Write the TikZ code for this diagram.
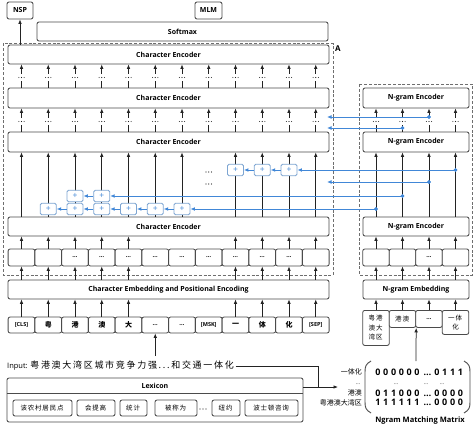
\documentclass[tikz,border=0pt]{standalone}
\usepackage{fontspec}
\setmainfont{Open Sans}
\newfontfamily\cjk{Noto Sans CJK SC}
\usetikzlibrary{arrows.meta,calc}
\definecolor{bord}{RGB}{75,75,75}
\definecolor{arrc}{RGB}{35,35,35}
\definecolor{blu}{RGB}{65,135,215}
\definecolor{plb}{RGB}{125,165,210}
\definecolor{dashc}{RGB}{110,110,110}
\def\myspread#1{\ifx#1\relax\else#1\kern1.7pt\expandafter\myspread\fi}
\def\myspreadb#1{\ifx#1\relax\else#1\kern0.8pt\expandafter\myspreadb\fi}
\def\zht{\cjk\fontsize{6.5}{9.5}\selectfont}
\begin{document}
\begin{tikzpicture}[x=1pt,y=-1pt,
  box/.style={draw=bord,line width=0.85pt,rounded corners=2pt,fill=white,inner sep=0pt,font=\bfseries\fontsize{7}{8}\selectfont},
  sb/.style={box,minimum width=26.75pt,minimum height=17pt,font=\bfseries\fontsize{6}{6}\selectfont},
  tk/.style={box,minimum width=26.75pt,minimum height=16pt,font=\bfseries\fontsize{5.5}{6}\selectfont},
  ntk/.style={box,minimum width=26.5pt,anchor=north,align=center,font=\zht},
  ar/.style={draw=arrc,line width=0.75pt,-{Latex[length=4.5pt,width=3.6pt]}},
  ln/.style={draw=arrc,line width=0.75pt},
  bar/.style={draw=blu,line width=0.9pt,-{Latex[length=4.5pt,width=3.8pt]}},
  pl/.style={draw=plb,line width=0.8pt,rounded corners=1.5pt,fill=white,minimum width=16pt,minimum height=11.5pt,inner sep=0pt,text=blu,font=\fontsize{8.5}{8.5}\selectfont},
  bdot/.style={circle,fill=blu,inner sep=0pt,minimum size=3.6pt},
  dbox/.style={draw=dashc,line width=0.8pt,dash pattern=on 3pt off 1.8pt},
  dig/.style={inner sep=0pt,anchor=base,font=\bfseries\fontsize{9}{9}\selectfont},
  wbox/.style={box,minimum height=16pt,font=\zht},
  ]
\useasboundingbox (0,0) rectangle (474,428);

% dashed groups
\draw[dbox] (3,43.5) rectangle (333,275);
\draw[dbox] (359,84) rectangle (472,275);

% top outputs
\node[box,minimum width=26pt,minimum height=17pt] (nsp) at (20,10.5) {NSP};
\node[box,minimum width=27pt,minimum height=17pt] (mlm) at (208.5,10.5) {MLM};
\node[box,minimum width=291pt,minimum height=19pt] (smx) at (182.5,31.5) {Softmax};
\node[font=\bfseries\fontsize{8}{8}\selectfont] (lblA) at (338,48.5) {A};

% character encoders
\node[box,minimum width=321pt,minimum height=19pt] (ce1) at (168.5,54.5) {Character Encoder};
\node[box,minimum width=321pt,minimum height=20pt] (ce2) at (168.5,98) {Character Encoder};
\node[box,minimum width=321pt,minimum height=20pt] (ce3) at (168.5,142) {Character Encoder};
\node[box,minimum width=321pt,minimum height=19pt] (ce4) at (168.5,226.5) {Character Encoder};
\node[box,minimum width=321pt,minimum height=19pt] (emb) at (168.5,289.5) {Character Embedding and Positional Encoding};

% n-gram encoders
\node[box,minimum width=106pt,minimum height=20pt] (ne1) at (416,98) {N-gram Encoder};
\node[box,minimum width=106pt,minimum height=20pt] (ne2) at (416,142) {N-gram Encoder};
\node[box,minimum width=106pt,minimum height=19pt] (ne3) at (416,226.5) {N-gram Encoder};
\node[box,minimum width=106pt,minimum height=19pt] (nemb) at (416,289.5) {N-gram Embedding};

% helper coordinates
\foreach \k in {1,...,12} \coordinate (c\k) at ({21.5+26.75*(\k-1)},0);
\foreach \k/\x in {1/376,2/402.5,3/429,4/455.5} \coordinate (n\k) at (\x,0);
\coordinate (ya) at (0,81); \coordinate (yb) at (0,77.5); \coordinate (yc) at (0,74);
\coordinate (yd) at (0,125); \coordinate (ye) at (0,121.5); \coordinate (yf) at (0,118);

% small boxes row
\foreach \k/\t in {1/{},2/{},3/…,4/…,5/…,6/…,7/…,8/…,9/…,10/…,11/…,12/{}}
  \node[sb] (s\k) at ({21.5+26.75*(\k-1)},257.5) {\t};
\foreach \k/\t in {1/{},2/{},3/…,4/{}}
  \node[sb,minimum width=26.5pt] (nb\k) at (n\k |- s1) {\t};

% tokens
\foreach \k/\t in {1/{[CLS]},2/{\cjk\fontsize{7}{7}\selectfont 粤},3/{\cjk\fontsize{7}{7}\selectfont 港},4/{\cjk\fontsize{7}{7}\selectfont 澳},5/{\cjk\fontsize{7}{7}\selectfont 大},6/{\fontsize{6}{6}\selectfont …},7/{\fontsize{6}{6}\selectfont …},8/{[MSK]},9/{\cjk\fontsize{7}{7}\selectfont 一},10/{\cjk\fontsize{7}{7}\selectfont 体},11/{\cjk\fontsize{7}{7}\selectfont 化},12/{[SEP]}}
  \node[tk] (t\k) at ({21.5+26.75*(\k-1)},325) {\t};

\node[ntk,minimum height=35pt] (nt1) at (376,310) {\myspreadb 粤港\relax\\\myspreadb 澳大\relax\\\myspreadb 湾区\relax};
\node[ntk,minimum height=17pt] (nt2) at (402.5,310) {\myspreadb 港澳\relax};
\node[ntk,minimum height=17pt,font=\bfseries\fontsize{6}{6}\selectfont] (nt3) at (429,310) {…};
\node[ntk,minimum height=24pt] (nt4) at (455.5,310) {\myspreadb 一体\relax\\化};

% character-side arrows
\foreach \k in {1,2,3,4,5,9,10,11,12} {
  \draw[ar] (t\k.north) -- (t\k.north |- emb.south);
  \draw[ar] (s\k.north) -- (s\k.north |- ce4.south);
  \draw[ar] (s\k.south |- emb.north) -- (s\k.south);
}
\foreach \k in {1,...,7,9,10,11,12}
  \draw[ar] (c\k |- ce4.north) -- (c\k |- ce3.south);
\foreach \k in {1,...,12} {
  \draw[ln] (c\k |- ce3.north) -- (c\k |- yd);
  \draw[ar] (c\k |- yf) -- (c\k |- ce2.south);
  \draw[ln] (c\k |- ce2.north) -- (c\k |- ya);
  \draw[ar] (c\k |- yc) -- (c\k |- ce1.south);
  \foreach \d in {-2.6,0,2.6} {
    \fill[arrc] ($(c\k |- ye)+(\d,0)$) circle (0.55pt);
    \fill[arrc] ($(c\k |- yb)+(\d,0)$) circle (0.55pt);
  }
}
\foreach \yy in {172,184}
  \foreach \d in {-2.8,0,2.8}
    \fill[arrc] ($(c8)+(\d,\yy)$) circle (0.6pt);
\draw[ar] (ce1.north -| nsp.south) -- (nsp.south);

% n-gram-side arrows
\foreach \k in {1,...,4} {
  \draw[ar] (n\k |- nt1.north) -- (n\k |- nemb.south);
  \draw[ar] (n\k |- nemb.north) -- (nb\k.south);
  \draw[ar] (nb\k.north) -- (n\k |- ne3.south);
  \draw[ar] (n\k |- ne3.north) -- (n\k |- ne2.south);
  \draw[ln] (n\k |- ne2.north) -- (n\k |- yd);
  \draw[ar] (n\k |- yf) -- (n\k |- ne1.south);
  \foreach \d in {-2.6,0,2.6}
    \fill[arrc] ($(n\k |- ye)+(\d,0)$) circle (0.55pt);
}

% plus boxes
\foreach \k in {2,...,7} \node[pl] (p\k) at (c\k |- 0,209) {+};
\foreach \k in {3,4} \node[pl] (q\k) at (c\k |- 0,196) {+};
\foreach \k in {9,10,11} \node[pl] (r\k) at (c\k |- 0,170) {+};

% blue fusion arrows
\coordinate (e1) at (327,182);
\coordinate (e2) at (327,117);
\coordinate (e3) at (327,128);
\node[bdot] (d1) at (376,209) {};
\node[bdot] (d2) at (402.5,196) {};
\node[bdot] (d3) at (429,182) {};
\node[bdot] (d4) at (455.5,170) {};
\node[bdot] (d5) at (429,117) {};
\node[bdot] (d6) at (402.5,128) {};
\draw[bar] (d1.center) -- (p7.east);
\draw[bar] (d2.center) -- (q4.east);
\draw[bar] (d3.center) -- (e1);
\draw[bar] (d4.center) -- (r11.east);
\draw[bar] (d5.center) -- (e2);
\draw[bar] (d6.center) -- (e3);
\foreach \k [evaluate=\k as \j using int(\k-1)] in {7,6,5,4,3}
  \draw[bar] (p\k.west) -- (p\j.east);
\draw[bar] (q4.west) -- (q3.east);
\draw[bar] (r11.west) -- (r10.east);
\draw[bar] (r10.west) -- (r9.east);
\foreach \n in {d1,d2,d3,d4,d5,d6} \fill[blu] (\n) circle (1.8pt);

% input sentence
\node[anchor=west,inner sep=0pt,font=\fontsize{7.5}{9}\selectfont] (inp) at (7,366)
  {Input: {\cjk\fontsize{9}{10}\selectfont\myspread 粤港澳大湾区城市竞争力强...和交通一体化\relax}};
\coordinate (ia) at (155.25,356);
\draw[ar] (ia) -- (ia |- t6.south);

% lexicon
\node[box,minimum width=296pt,minimum height=44pt] (lex) at (155,400) {};
\coordinate (hl) at (0,393);
\draw[draw=bord,line width=0.85pt] (lex.west |- hl) -- (lex.east |- hl);
\node[font=\bfseries\fontsize{7}{8}\selectfont] (lext) at (155,386) {Lexicon};
\node[wbox,minimum width=59pt] (w1) at (42.5,408) {\myspreadb 该农村居民点\relax};
\node[wbox,minimum width=38pt] (w2) at (96,408) {\myspreadb 会提高\relax};
\node[wbox,minimum width=27pt] (w3) at (133.5,408) {\myspreadb 统计\relax};
\node[wbox,minimum width=42pt] (w4) at (176,408) {\myspreadb 被称为\relax};
\node[wbox,minimum width=28pt] (w5) at (226,408) {\myspreadb 纽约\relax};
\node[wbox,minimum width=53pt] (w6) at (271.5,408) {\myspreadb 波士顿咨询\relax};
\foreach \d in {-3,0,3} \fill[arrc] ($(203,409)+(\d,0)$) circle (0.55pt);

% connection to matrix
\coordinate (jn) at (318,387);
\coordinate (mat) at (338,387);
\draw[ln] (inp.east) -| (jn);
\draw[ar] (lex.east |- jn) -- (mat);

% matrix
\draw[draw=bord,line width=0.9pt] (371,361) .. controls (366,364) and (365,366) .. (365,372) -- (365,402) .. controls (365,408) and (366,410) .. (371,413);
\draw[draw=bord,line width=0.9pt] (464,361) .. controls (469,364) and (470,366) .. (470,372) -- (470,402) .. controls (470,408) and (469,410) .. (464,413);
\coordinate (mt) at (416,361);
\draw[ar] (mt) -- (nt2.south east);
\foreach \r/\yy/\ds in {a/375.5/{0,0,0,0,0,0,0,1,1,1},b/396.5/{0,1,1,0,0,0,0,0,0,0},c/405.5/{1,1,1,1,1,1,0,0,0,0}} {
  \foreach \c [count=\i] in \ds
    \node[dig] (m\r\i) at ({\i<7 ? 378+7.8*(\i-1) : 437+7.8*(\i-7)},\yy) {\c};
  \node[dig] (m\r e) at (427.5,\yy) {…};
}
\foreach \x [count=\i] in {358,396,426,442}
  \node[inner sep=0pt,font=\fontsize{5}{5}\selectfont] (vd\i) at (\x,384) {…};
\node[anchor=east,inner sep=0pt,font=\cjk\fontsize{7}{7}\selectfont] (la) at (362,372) {一体化};
\node[anchor=east,inner sep=0pt,font=\cjk\fontsize{7}{7}\selectfont] (lb) at (362,393) {港澳};
\node[anchor=east,inner sep=0pt,font=\cjk\fontsize{7}{7}\selectfont] (lc) at (362,402.5) {粤港澳大湾区};
\node[font=\bfseries\fontsize{7.5}{8}\selectfont,inner sep=0pt] (mtitle) at (420,421) {Ngram Matching Matrix};
\end{tikzpicture}
\end{document}
